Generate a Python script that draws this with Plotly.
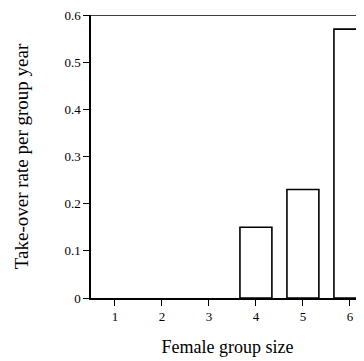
import plotly.graph_objects as go

group_size = [1, 2, 3, 4, 5, 6]
takeover_rate = [0, 0, 0, 0.15, 0.23, 0.57]
y_ticks = [0, 0.1, 0.2, 0.3, 0.4, 0.5, 0.6]
y_tick_labels = ["0", "0.1", "0.2", "0.3", "0.4", "0.5", "0.6"]

outline_widths = [1.6 if v > 0 else 0 for v in takeover_rate]

fig = go.Figure(go.Bar(
    x=group_size, y=takeover_rate, width=0.68,
    marker=dict(color="white", line=dict(color="black", width=outline_widths)),
))

font = "Liberation Serif, Times New Roman, serif"
# page body has an 8px default margin, so the figure is sized to fit the window
fig.update_layout(
    width=356, height=353,
    margin=dict(l=83, r=0, t=7, b=63, autoexpand=False),
    paper_bgcolor="white", plot_bgcolor="white",
    showlegend=False,
    font=dict(family=font, color="black", size=13),
)
fig.update_xaxes(
    range=[0.49, 6.3], tickvals=group_size, ticktext=[str(v) for v in group_size],
    showline=True, linecolor="black", linewidth=1.5, mirror=False,
    ticks="outside", ticklen=6, tickwidth=1.2, tickcolor="black",
    showgrid=False, zeroline=False, automargin=False,
    title=dict(text="Female group size", font=dict(size=18, family=font), standoff=17),
)
fig.update_yaxes(
    range=[0, 0.6], tickvals=y_ticks, ticktext=y_tick_labels,
    showline=True, linecolor="black", linewidth=1.5,
    ticks="outside", ticklen=6, tickwidth=1.2, tickcolor="black",
    showgrid=False, zeroline=False, automargin=False, ticklabeloverflow="allow",
    title=dict(text="Take-over rate per group year", font=dict(size=19, family=font), standoff=31),
)
# top frame line at 0.6
fig.add_shape(type="line", xref="paper", yref="y", x0=-0.01, x1=1, y0=0.6, y1=0.6,
              line=dict(color="black", width=1.5))

fig.write_html("out.html")
